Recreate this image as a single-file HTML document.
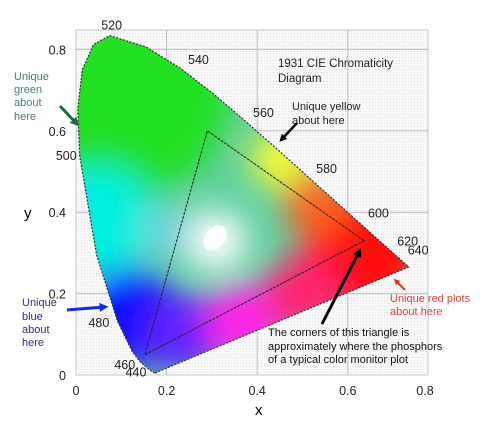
<!DOCTYPE html>
<html><head><meta charset="utf-8"><style>
body{margin:0;background:#fff;}
svg{display:block;font-family:"Liberation Sans",sans-serif;}
</style></head><body>
<svg id="chart" width="494" height="427" viewBox="0 0 494 427">
<defs>
<pattern id="dots" width="3" height="3" patternUnits="userSpaceOnUse"><rect width="3" height="3" fill="#f9f9f9"/><rect width="1" height="1" fill="#e0e0e0"/></pattern>
<filter id="blur" x="-50%" y="-50%" width="200%" height="200%"><feGaussianBlur stdDeviation="16"/></filter>
<clipPath id="locusClip"><path id="clipPath"/></clipPath>
<marker id="ahBlack" viewBox="0 0 10 10" refX="5" refY="5" markerWidth="3" markerHeight="3" orient="auto"><path d="M0,0L10,5L0,10z" fill="#000"/></marker>
<marker id="ahGreen" viewBox="0 0 10 10" refX="5" refY="5" markerWidth="3" markerHeight="3" orient="auto"><path d="M0,0L10,5L0,10z" fill="#1a6a4a"/></marker>
<marker id="ahBlue" viewBox="0 0 10 10" refX="5" refY="5" markerWidth="3" markerHeight="3" orient="auto"><path d="M0,0L10,5L0,10z" fill="#1030e0"/></marker>
<marker id="ahRed" viewBox="0 0 10 10" refX="5" refY="5" markerWidth="3" markerHeight="3" orient="auto"><path d="M0,0L10,5L0,10z" fill="#e03030"/></marker>
</defs>
<rect x="76" y="30" width="352" height="345" fill="url(#dots)" stroke="#c8c8c8"/>
<g id="grid"></g>
<g id="fill" clip-path="url(#locusClip)"></g>
<path id="locus" fill="none" stroke="#333" stroke-width="1.2" stroke-dasharray="2 1.5"/>
<polygon id="tri" fill="none" stroke="#222" stroke-width="1" stroke-dasharray="3 1"/>
<ellipse cx="215" cy="238" rx="10" ry="14" transform="rotate(40 215 238)" fill="#fff"/>
<g id="ticks" font-size="12.5" fill="#222"></g>
<g id="wl" font-size="12.5" fill="#222"></g>
<text x="24" y="218" font-size="15">y</text>
<text x="255" y="415" font-size="15">x</text>
<text font-size="11.5" fill="#222"><tspan x="278" y="67">1931 CIE Chromaticity</tspan><tspan x="278" y="82">Diagram</tspan></text>
<text font-size="11" fill="#222"><tspan x="292" y="110">Unique yellow</tspan><tspan x="292" y="124">about here</tspan></text>
<line x1="297" y1="123" x2="282" y2="139" stroke="#000" stroke-width="2.5" marker-end="url(#ahBlack)"/>
<text font-size="11" fill="#4a7a7a"><tspan x="14" y="80">Unique</tspan><tspan x="14" y="93">green</tspan><tspan x="14" y="106">about</tspan><tspan x="14" y="120">here</tspan></text>
<line x1="60" y1="106" x2="76" y2="123" stroke="#1a6a4a" stroke-width="3" marker-end="url(#ahGreen)"/>
<text font-size="11" fill="#3a2a8a"><tspan x="22" y="306">Unique</tspan><tspan x="22" y="320">blue</tspan><tspan x="22" y="333">about</tspan><tspan x="22" y="346">here</tspan></text>
<line x1="67" y1="310" x2="104" y2="307" stroke="#1030e0" stroke-width="3" marker-end="url(#ahBlue)"/>
<text font-size="11" fill="#e04040"><tspan x="390" y="302">Unique red plots</tspan><tspan x="390" y="315">about here</tspan></text>
<line x1="405" y1="290" x2="396" y2="281" stroke="#e03030" stroke-width="2" marker-end="url(#ahRed)"/>
<text font-size="11" fill="#111"><tspan x="268" y="336">The corners of this triangle is</tspan><tspan x="268" y="350">approximately where the phosphors</tspan><tspan x="268" y="363">of a typical color monitor plot</tspan></text>
<line x1="322" y1="324" x2="359" y2="252" stroke="#000" stroke-width="3" marker-end="url(#ahBlack)"/>
</svg>
<script>
const locusX=[0.1741,0.1644,0.1440,0.1241,0.0913,0.0454,0.0082,0.0039,0.0139,0.0389,0.0743,0.1547,0.2296,0.3016,0.3731,0.4441,0.5125,0.5752,0.6270,0.6915,0.7190,0.7347];
const locusY=[0.0050,0.0109,0.0297,0.0578,0.1327,0.2950,0.5384,0.6548,0.7502,0.8120,0.8338,0.8059,0.7543,0.6923,0.6245,0.5547,0.4866,0.4242,0.3725,0.3083,0.2809,0.2653];
const wlNames=["440","460","480","500","520","540","560","580","600","620","640"];
const wlX=[0.1644,0.1440,0.0913,0.0082,0.0743,0.2296,0.3731,0.5125,0.6270,0.6915,0.7190];
const wlY=[0.0109,0.0297,0.1327,0.5384,0.8338,0.7543,0.6245,0.4866,0.3725,0.3083,0.2809];
const triX=[0.636,0.290,0.152];
const triY=[0.330,0.600,0.050];
const xTicks=[0,0.2,0.4,0.6,0.8];
const yTicks=[0,0.2,0.4,0.6,0.8];
const xTickLabels=["0","0.2","0.4","0.6","0.8"];
const yTickLabels=["0","0.2","0.4","0.6","0.8"];
const blobs=[[0.10,0.70,"#22e022",110],[0.05,0.38,"#00f0e0",55],[0.12,0.14,"#1010ff",50],[0.24,0.10,"#6020ff",40],[0.37,0.13,"#ff20e8",38],[0.63,0.30,"#ff0a0a",60],[0.53,0.42,"#ff6020",32],[0.45,0.53,"#ffff30",28],[0.31,0.33,"#ffffff",30],[0.50,0.20,"#ff2070",38],[0.20,0.35,"#70d0e0",25]];
const NS="http://www.w3.org/2000/svg";
const X=v=>76+v*453, Y=v=>375-v*407;
function mk(t,a,p){const e=document.createElementNS(NS,t);for(const k in a)e.setAttribute(k,a[k]);(p||document.getElementById('chart')).appendChild(e);return e;}
const d="M"+locusX.map((x,i)=>X(x).toFixed(1)+","+Y(locusY[i]).toFixed(1)).join("L")+"Z";
document.getElementById('clipPath').setAttribute('d',d);
document.getElementById('locus').setAttribute('d',d);
document.getElementById('tri').setAttribute('points',triX.map((x,i)=>X(x)+","+Y(triY[i])).join(" "));
const grid=document.getElementById('grid');
xTicks.forEach(v=>{if(X(v)>77&&X(v)<427){const l=mk('line',{x1:X(v),x2:X(v),y1:30,y2:375,stroke:'#bdbdbd'},grid);}});
yTicks.forEach(v=>{if(Y(v)>31&&Y(v)<374){const l=mk('line',{x1:76,x2:428,y1:Y(v),y2:Y(v),stroke:'#bdbdbd'},grid);}});
const fill=document.getElementById('fill');
const bg=mk('rect',{x:60,y:20,width:380,height:360,fill:'#60d0a0'},fill);

const bl=mk('g',{filter:'url(#blur)'},fill);
blobs.forEach(b=>{const c=mk('circle',{cx:X(b[0]),cy:Y(b[1]),r:b[3],fill:b[2]},bl);});
const ticks=document.getElementById('ticks');
xTicks.forEach((v,i)=>{const t=mk('text',{x:Math.min(X(v),425),y:395,'text-anchor':'middle'},ticks);t.textContent=xTickLabels[i];});
yTicks.forEach((v,i)=>{const t=mk('text',{x:66,y:Y(v)+5,'text-anchor':'end'},ticks);t.textContent=yTickLabels[i];});
const offs={"440":[-4,6,"end"],"460":[-6,6,"end"],"480":[-8,6,"end"],"500":[-3,4,"end"],"520":[2,-6,"middle"],"540":[8,-4,"start"],"560":[8,-4,"start"],"580":[8,-4,"start"],"600":[8,-6,"start"],"620":[8,-4,"start"],"640":[6,-6,"start"]};
const wl=document.getElementById('wl');
wlNames.forEach((n,i)=>{const o=offs[n];const t=mk('text',{x:X(wlX[i])+o[0],y:Y(wlY[i])+o[1],'text-anchor':o[2]},wl);t.textContent=n;});
</script>
</body></html>
